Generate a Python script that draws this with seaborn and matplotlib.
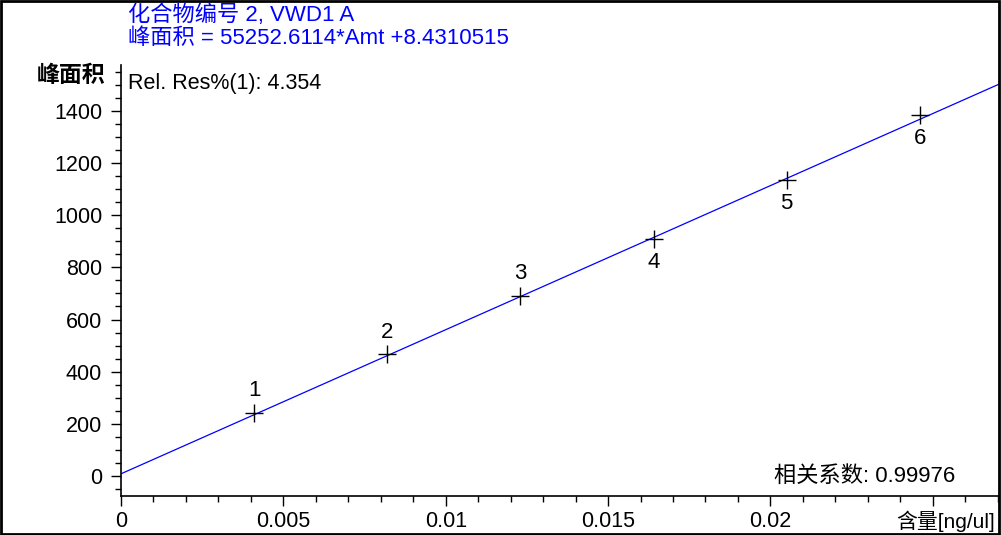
import matplotlib
matplotlib.use("Agg")
import matplotlib.pyplot as plt
import matplotlib.ticker as mticker
from matplotlib.patches import Rectangle
import seaborn as sns

# %% Data
levels = ["1", "2", "3", "4", "5", "6"]
amount = [0.0041, 0.0082, 0.0123, 0.0164, 0.0205, 0.0246]
area = [242, 466, 690, 910, 1134, 1384]
label_above = [True, True, True, False, False, False]

slope = 55252.6114
intercept = 8.4310515
fit_x = [0.0, 0.02704]

title_lines = ["化合物编号 2, VWD1 A", "峰面积 = 55252.6114*Amt +8.4310515"]
rel_res = "Rel. Res%(1): 4.354"
corr_text = "相关系数: 0.99976"
x_unit = "含量[ng/ul]"
y_name = "峰面积"

x_major = [0, 0.005, 0.01, 0.015, 0.02, 0.025]
x_labels = ["0", "0.005", "0.01", "0.015", "0.02", ""]
y_major = [0, 200, 400, 600, 800, 1000, 1200, 1400]

# %% Plot
sns.set_style("white")
plt.rcParams["font.family"] = ["Liberation Sans", "Noto Sans CJK SC", "DejaVu Sans"]
plt.rcParams["text.color"] = "black"
plt.rcParams["xtick.labelcolor"] = "black"
plt.rcParams["ytick.labelcolor"] = "black"
fs = 15.5

W, H = 1001, 535
fig = plt.figure(figsize=(W / 100, H / 100), dpi=100)
ax = fig.add_axes([121 / W, (H - 496) / H, (999 - 121) / W, (496 - 65) / H])

fit_y = [slope * v + intercept for v in fit_x]
sns.lineplot(x=fit_x, y=fit_y, color="#0000ff", linewidth=0.9, ax=ax)
sns.scatterplot(x=amount, y=area, marker="+", s=170, color="black",
                linewidth=1.0, ax=ax, zorder=3)

for lab, xv, yv, up in zip(levels, amount, area, label_above):
    ax.annotate(lab, (xv, yv), xytext=(0, 16 if up else -17),
                textcoords="offset points", ha="center", va="center",
                fontsize=16, color="black")

ax.set_xlim(0, 0.02704)
ax.set_ylim(-76.7, 1576)

ax.set_xticks(x_major)
ax.set_xticklabels(x_labels)
ax.xaxis.set_minor_locator(mticker.MultipleLocator(0.001))
ax.set_yticks(y_major)
ax.yaxis.set_minor_locator(mticker.MultipleLocator(50))

ax.tick_params(which="major", direction="out", length=7.5, width=1,
               color="black", labelcolor="black", labelsize=fs,
               bottom=True, left=True)
ax.tick_params(axis="x", which="major", pad=3)
ax.tick_params(axis="y", which="major", pad=6)
ax.tick_params(which="minor", direction="out", length=4, width=1,
               color="black", bottom=True, left=True)

for side in ["top", "right"]:
    ax.spines[side].set_visible(False)
for side in ["left", "bottom"]:
    ax.spines[side].set_color("black")
    ax.spines[side].set_linewidth(1.2)

# texts placed in pixels like the reference
fig.text(128 / W, 1 - 83 / H, rel_res, ha="left", va="center", fontsize=fs)
fig.text(955 / W, 1 - 476 / H, corr_text, ha="right", va="center", fontsize=16)
fig.text(995 / W, 1 - 521 / H, x_unit, ha="right", va="center", fontsize=15)
fig.text(105 / W, 1 - 76 / H, y_name, ha="right", va="center", fontsize=16.5,
         fontweight="bold")

for i, line in enumerate(title_lines):
    fig.text(128 / W, 1 - (15 + 24 * i) / H, line, ha="left", va="center",
             fontsize=16, color="#0000ff")

# frame round the whole picture
fig.patches.append(Rectangle((0.001, 0.002), 0.997, 0.996, transform=fig.transFigure,
                             fill=False, edgecolor="black", linewidth=2))

fig.savefig("out.png", dpi=100)
